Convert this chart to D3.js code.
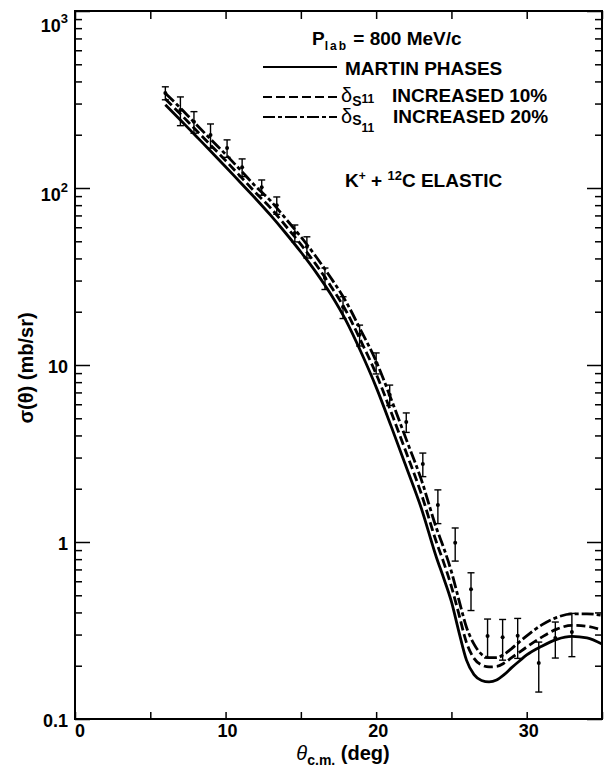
<!DOCTYPE html>
<html>
<head>
<meta charset="utf-8">
<script src="https://cdn.jsdelivr.net/npm/d3@7"></script>
<style>
body { margin: 0; background: #fff; }
text { font-family: "Liberation Sans", Arial, sans-serif; font-weight: bold; fill: #000; }
</style>
</head>
<body>
<div id="chart"></div>
<script>
// theory curves (theta in deg, sigma in mb/sr)
var curveTheta = [6, 7, 8, 9, 10, 11, 12, 13, 14, 15, 16, 17, 18, 19, 20, 21, 22, 23, 24, 24.5,
    25, 25.5, 26, 26.5, 27, 27.5, 28, 28.5, 29, 29.5, 30, 31, 32, 33, 34, 35];
var martin = [295, 242, 198, 162, 132, 107, 87, 70, 55.5, 43.5, 33.5, 25, 17.8, 11.8, 7.5, 4.5, 2.65, 1.55, 0.82, 0.62,
    0.46, 0.31, 0.215, 0.178, 0.165, 0.162, 0.166, 0.178, 0.195, 0.212, 0.23, 0.258, 0.282, 0.293, 0.287, 0.265];
var inc10 = [318, 262, 214, 175, 143, 116, 94, 77, 61, 48, 37, 27.8, 20.2, 13.6, 8.9, 5.4, 3.2, 1.87, 1.0, 0.76,
    0.56, 0.39, 0.27, 0.22, 0.202, 0.197, 0.198, 0.207, 0.222, 0.238, 0.255, 0.29, 0.322, 0.338, 0.334, 0.318];
var inc20 = [343, 283, 231, 189, 155, 126, 102, 84.5, 67, 53, 41, 31, 22.8, 15.6, 10.5, 6.4, 3.8, 2.25, 1.2, 0.92,
    0.68, 0.47, 0.33, 0.265, 0.232, 0.222, 0.222, 0.232, 0.25, 0.272, 0.295, 0.34, 0.375, 0.393, 0.393, 0.385];

// measured points
var dataTheta = [6.0, 7.0, 7.9, 9.0, 10.1, 11.1, 12.4, 13.4, 14.6, 15.4, 16.6, 17.8, 18.9, 20.0, 20.9,
    22.0, 23.1, 24.1, 25.25, 26.3, 27.4, 28.4, 29.4, 30.8, 31.9, 33.0];
var dataSigma = [344, 276, 237, 199, 168, 131, 101, 80, 55.7, 46.6, 31, 21.3, 14.8, 10.3, 6.8,
    4.76, 2.76, 1.62, 0.99, 0.54, 0.294, 0.29, 0.295, 0.207, 0.287, 0.31];
var dataErr = [29, 51, 33, 31, 19, 15, 10, 9, 6.1, 6.4, 4.3, 3.0, 2.0, 1.4, 0.9,
    0.6, 0.42, 0.35, 0.21, 0.13, 0.073, 0.075, 0.075, 0.065, 0.066, 0.085];

var xTickLabels = [0, 10, 20, 30];
var yTickLabels = [0.1, 1, 10, 100, 1000];

var w = 606, h = 767;
var plotL = 75, plotR = 602, plotT = 11, plotB = 719;

var svg = d3.select("#chart").append("svg")
    .attr("width", w)
    .attr("height", h);

var x = d3.scaleLinear().domain([0, 35]).range([plotL, plotR]);
var y = d3.scaleLog().domain([0.1, 1000]).range([plotB, plotT]);

var minor = y.ticks().filter(function (d) {
    return yTickLabels.indexOf(d) < 0;
});

function noDomain(g) {
    g.select(".domain").remove();
    g.selectAll(".tick line").attr("stroke", "#000").attr("stroke-width", 1.5);
}

// ticks, all pointing inwards
svg.append("g").attr("transform", "translate(" + plotL + ",0)")
    .call(d3.axisLeft(y).tickValues(minor).tickSize(-7).tickFormat("")).call(noDomain);
svg.append("g").attr("transform", "translate(" + plotL + ",0)")
    .call(d3.axisLeft(y).tickValues(yTickLabels).tickSize(-15).tickFormat("")).call(noDomain);
svg.append("g").attr("transform", "translate(" + plotR + ",0)")
    .call(d3.axisRight(y).tickValues(minor).tickSize(-7).tickFormat("")).call(noDomain);
svg.append("g").attr("transform", "translate(" + plotR + ",0)")
    .call(d3.axisRight(y).tickValues(yTickLabels).tickSize(-15).tickFormat("")).call(noDomain);
svg.append("g").attr("transform", "translate(0," + plotB + ")")
    .call(d3.axisBottom(x).tickValues(d3.range(0, 36, 5)).tickSize(-7).tickFormat("")).call(noDomain);
svg.append("g").attr("transform", "translate(0," + plotT + ")")
    .call(d3.axisTop(x).tickValues(d3.range(0, 36, 5)).tickSize(-8).tickFormat("")).call(noDomain);

// frame
svg.append("rect")
    .attr("x", plotL).attr("y", plotT)
    .attr("width", plotR - plotL).attr("height", plotB - plotT)
    .attr("fill", "none").attr("stroke", "#000").attr("stroke-width", 2);

// y tick labels
var yl = svg.selectAll(".ylab").data(yTickLabels).enter().append("text")
    .attr("class", "ylab")
    .attr("x", 68)
    .attr("y", function (d) {
        if (d === 1000) return y(d) + 21;
        if (d === 100) return y(d) + 13;
        return y(d) + 8;
    })
    .attr("text-anchor", "end")
    .style("font-size", "18px");
yl.each(function (d) {
    var t = d3.select(this);
    if (d >= 100) {
        t.append("tspan").text("10");
        t.append("tspan").attr("dy", -9).style("font-size", "13px").text(Math.round(Math.log10(d)));
    } else {
        t.text(d);
    }
});

// x tick labels
svg.selectAll(".xlab").data(xTickLabels).enter().append("text")
    .attr("class", "xlab")
    .attr("x", function (d) { return x(d) + (d === 0 ? 5 : 2); })
    .attr("y", 737)
    .attr("text-anchor", "middle")
    .style("font-size", "18px")
    .text(function (d) { return d; });

// axis titles
svg.append("text")
    .attr("transform", "translate(33,368) rotate(-90)")
    .attr("text-anchor", "middle")
    .style("font-size", "20px")
    .text("σ(θ) (mb/sr)");

var xt = svg.append("text")
    .attr("x", 343).attr("y", 760)
    .attr("text-anchor", "middle")
    .style("font-size", "20px");
xt.append("tspan").style("font-style", "italic").style("font-weight", "normal").text("θ");
xt.append("tspan").attr("dy", 5).style("font-size", "14px").text("c.m.");
xt.append("tspan").attr("dy", -5).text(" (deg)");

// theory curves
var pts = function (vals) {
    return curveTheta.map(function (t, i) { return [t, vals[i]]; });
};
var line = d3.line()
    .x(function (d) { return x(d[0]); })
    .y(function (d) { return y(d[1]); })
    .curve(d3.curveMonotoneX);

var styles = [
    { vals: martin, dash: null },
    { vals: inc10, dash: "9,4" },
    { vals: inc20, dash: "12,3,4,3" }
];
svg.selectAll(".curve").data(styles).enter().append("path")
    .attr("class", "curve")
    .attr("d", function (s) { return line(pts(s.vals)); })
    .attr("fill", "none")
    .attr("stroke", "#000")
    .attr("stroke-width", 2.8)
    .attr("stroke-dasharray", function (s) { return s.dash; });

// data points with error bars
var pg = svg.selectAll(".pt").data(dataTheta).enter().append("g").attr("class", "pt");
pg.append("line")
    .attr("x1", function (d) { return x(d); })
    .attr("x2", function (d) { return x(d); })
    .attr("y1", function (d, i) { return y(dataSigma[i] + dataErr[i]); })
    .attr("y2", function (d, i) { return y(dataSigma[i] - dataErr[i]); })
    .attr("stroke", "#000").attr("stroke-width", 1.4);
[1, -1].forEach(function (sgn) {
    pg.append("line")
        .attr("x1", function (d) { return x(d) - 3.5; })
        .attr("x2", function (d) { return x(d) + 3.5; })
        .attr("y1", function (d, i) { return y(dataSigma[i] + sgn * dataErr[i]); })
        .attr("y2", function (d, i) { return y(dataSigma[i] + sgn * dataErr[i]); })
        .attr("stroke", "#000").attr("stroke-width", 1.4);
});
pg.append("circle")
    .attr("cx", function (d) { return x(d); })
    .attr("cy", function (d, i) { return y(dataSigma[i]); })
    .attr("r", 2)
    .attr("fill", "#000");

// legend
var legend = svg.append("g");
legend.selectAll("line").data(styles).enter().append("line")
    .attr("x1", 263).attr("x2", 337)
    .attr("y1", function (d, i) { return [67, 97, 117][i]; })
    .attr("y2", function (d, i) { return [67, 97, 117][i]; })
    .attr("stroke", "#000").attr("stroke-width", 1.8)
    .attr("stroke-dasharray", function (s) { return s.dash; });

var p = legend.append("text").attr("x", 312).attr("y", 45).style("font-size", "19px");
p.append("tspan").text("P");
p.append("tspan").attr("dy", 5).style("font-size", "12px").style("letter-spacing", "2px").text("lab");
p.append("tspan").attr("dy", -5).text(" = 800 MeV/c");

legend.append("text").attr("x", 345).attr("y", 75).style("font-size", "19px").text("MARTIN PHASES");

var l1 = legend.append("text").attr("x", 341).attr("y", 102).style("font-size", "19px");
l1.append("tspan").style("font-size", "20px").style("font-weight", "normal").text("δ");
l1.append("tspan").attr("dy", 4).style("font-size", "14px").text("S");
l1.append("tspan").attr("dy", -3).style("font-size", "12px").text("11");
l1.append("tspan").attr("x", 392).attr("dy", -1).text("INCREASED 10%");

var l2 = legend.append("text").attr("x", 341).attr("y", 123).style("font-size", "19px");
l2.append("tspan").style("font-size", "20px").style("font-weight", "normal").text("δ");
l2.append("tspan").attr("dy", 2).style("font-size", "14px").text("S");
l2.append("tspan").attr("dy", 7).style("font-size", "12px").text("11");
l2.append("tspan").attr("x", 393).attr("dy", -9).text("INCREASED  20%");

var k = legend.append("text").attr("x", 345).attr("y", 187).style("font-size", "19px");
k.append("tspan").text("K");
k.append("tspan").attr("dy", -7).style("font-size", "12px").text("+");
k.append("tspan").attr("dy", 7).text(" + ");
k.append("tspan").attr("dy", -7).style("font-size", "13px").text("12");
k.append("tspan").attr("dy", 7).text("C ELASTIC");
</script>
</body>
</html>
